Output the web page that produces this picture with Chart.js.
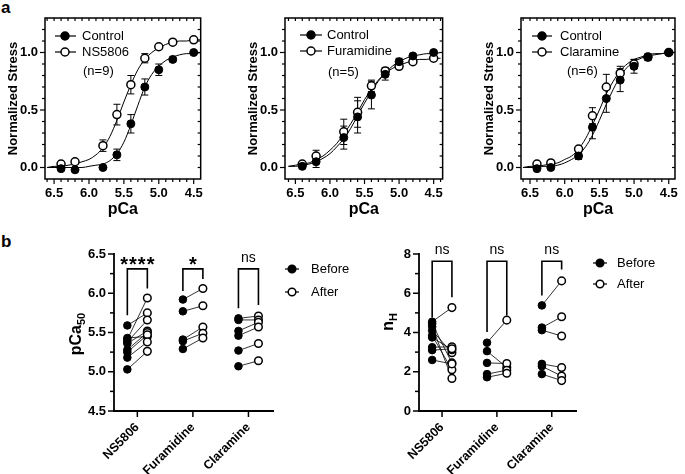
<!DOCTYPE html>
<html><head><meta charset="utf-8">
<script src="https://cdn.jsdelivr.net/npm/chart.js@4.4.1/dist/chart.umd.min.js"></script>
<style>
html,body{margin:0;padding:0;background:#fff;}
#wrap{position:relative;width:685px;height:474px;overflow:hidden;background:#fff;}
canvas{position:absolute;}
.lbl{position:absolute;font:bold 17px "Liberation Sans",Arial,sans-serif;color:#000;line-height:17px;}
</style></head><body>
<div id="wrap">
<div class="lbl" style="left:1px;top:-1px">a</div>
<div class="lbl" style="left:1px;top:233px">b</div>
<canvas id="a1" width="210" height="224" style="left:0;top:0"></canvas>
<canvas id="a2" width="210" height="224" style="left:240px;top:0"></canvas>
<canvas id="a3" width="209" height="224" style="left:476px;top:0"></canvas>
<canvas id="b1" width="360" height="244" style="left:0;top:230px"></canvas>
<canvas id="b2" width="325" height="244" style="left:360px;top:230px"></canvas>
</div>
<script>
const FONT = '"Liberation Sans", Arial, sans-serif';

// ---------- Panel a : force–pCa relations ----------
const pCaPoints = [6.4, 6.2, 5.8, 5.6, 5.4, 5.2, 5.0, 4.8, 4.5];
const pCaFit = [6.6,6.5,6.4,6.3,6.2,6.1,6.0,5.9,5.8,5.7,5.6,5.5,5.4,5.3,5.2,5.1,5.0,4.9,4.8,4.7,4.6,4.5,4.4];
const xTickLabelsA = [6.5, 6.0, 5.5, 5.0, 4.5];
const yTickLabelsA = [0.0, 0.5, 1.0];

// NS5806 panel
const nsCtrl     = [-0.01,-0.02, 0.00, 0.11, 0.38, 0.70, 0.85, 0.94, 1.00];
const nsCtrlErr  = [ 0.00, 0.00, 0.00, 0.05, 0.08, 0.07, 0.05, 0.02, 0.00];
const nsDrug     = [ 0.03, 0.05, 0.19, 0.46, 0.72, 0.95, 1.05, 1.09, 1.11];
const nsDrugErr  = [ 0.00, 0.02, 0.05, 0.09, 0.08, 0.04, 0.02, 0.02, 0.02];
const nsCtrlFit  = [0.00,0.00,0.00,0.00,0.00,0.00,0.01,0.02,0.03,0.06,0.12,0.22,0.37,0.54,0.70,0.81,0.88,0.93,0.96,0.98,0.99,0.99,1.00];
const nsDrugFit  = [0.00,0.01,0.01,0.02,0.03,0.05,0.07,0.11,0.17,0.27,0.41,0.57,0.72,0.85,0.94,1.00,1.04,1.07,1.09,1.10,1.10,1.11,1.11];

// Furamidine panel
const fuCtrl     = [ 0.01, 0.05, 0.26, 0.44, 0.63, 0.81, 0.92, 0.97, 1.00];
const fuCtrlErr  = [ 0.01, 0.05, 0.10, 0.14, 0.12, 0.05, 0.03, 0.01, 0.00];
const fuDrug     = [ 0.03, 0.10, 0.31, 0.48, 0.71, 0.84, 0.88, 0.92, 0.95];
const fuDrugErr  = [ 0.01, 0.05, 0.11, 0.13, 0.05, 0.03, 0.02, 0.01, 0.01];
const fuCtrlFit  = [0.01,0.01,0.02,0.03,0.05,0.08,0.12,0.18,0.25,0.34,0.45,0.56,0.66,0.75,0.82,0.88,0.92,0.95,0.97,0.98,0.99,0.99,1.00];
const fuDrugFit  = [0.01,0.02,0.03,0.04,0.07,0.10,0.15,0.21,0.29,0.38,0.48,0.59,0.68,0.76,0.82,0.86,0.89,0.91,0.93,0.94,0.94,0.95,0.95];

// Claramine panel
const clCtrl     = [-0.01, 0.00, 0.10, 0.35, 0.60, 0.76, 0.88, 0.96, 1.00];
const clCtrlErr  = [ 0.00, 0.00, 0.03, 0.10, 0.12, 0.10, 0.06, 0.03, 0.00];
const clDrug     = [ 0.03, 0.04, 0.16, 0.45, 0.70, 0.82, 0.90, 0.96, 1.00];
const clDrugErr  = [ 0.00, 0.00, 0.02, 0.07, 0.11, 0.06, 0.04, 0.02, 0.00];
const clCtrlFit  = [0.00,0.00,0.00,0.01,0.01,0.02,0.04,0.07,0.11,0.18,0.28,0.41,0.55,0.68,0.79,0.87,0.92,0.95,0.97,0.98,0.99,1.00,1.00];
const clDrugFit  = [0.00,0.01,0.01,0.02,0.03,0.04,0.07,0.10,0.16,0.25,0.37,0.50,0.64,0.75,0.84,0.90,0.94,0.96,0.98,0.99,0.99,1.00,1.00];

// ---------- Panel b : paired pCa50 and nH ----------
const categories = ['NS5806', 'Furamidine', 'Claramine'];
const pca50NsBefore = [5.59, 5.43, 5.41, 5.38, 5.36, 5.28, 5.25, 5.18, 5.03];
const pca50NsAfter  = [5.75, 5.45, 5.94, 5.66, 5.52, 5.50, 5.47, 5.38, 5.26];
const pca50FuBefore = [5.92, 5.77, 5.41, 5.39, 5.29];
const pca50FuAfter  = [6.06, 5.84, 5.57, 5.49, 5.43];
const pca50ClBefore = [5.68, 5.66, 5.52, 5.46, 5.27, 5.07];
const pca50ClAfter  = [5.71, 5.66, 5.63, 5.57, 5.36, 5.14];
const nhNsBefore = [4.55, 4.45, 4.30, 4.10, 3.85, 3.75, 3.25, 3.10, 2.60];
const nhNsAfter  = [5.27, 2.45, 1.66, 2.97, 2.10, 3.12, 3.27, 3.17, 2.40];
const nhFuBefore = [3.48, 3.05, 2.45, 1.88, 1.72];
const nhFuAfter  = [4.63, 2.22, 2.42, 2.08, 1.92];
const nhClBefore = [5.38, 4.25, 4.12, 2.40, 2.28, 1.88];
const nhClAfter  = [6.63, 4.80, 3.82, 2.22, 1.78, 1.55];
const pca50Significance = ['****', '*', 'ns'];
const nhSignificance    = ['ns', 'ns', 'ns'];
// bracket heights in data units: [top, left leg end, right leg end]
const pca50Brackets = [[6.31, 5.72, 6.06], [6.31, 6.03, 6.18], [6.31, 5.81, 5.85]];
const nhBrackets    = [[7.63, 4.77, 5.79], [7.63, 4.03, 4.87], [7.63, 5.89, 7.21]];

// ================= helpers =================
function seg(ctx, x0, y0, x1, y1) { ctx.beginPath(); ctx.moveTo(x0, y0); ctx.lineTo(x1, y1); ctx.stroke(); }
function marker(ctx, x, y, r, filled) {
  ctx.beginPath(); ctx.arc(x, y, r, 0, Math.PI * 2);
  ctx.fillStyle = filled ? '#000' : '#fff'; ctx.fill();
  ctx.lineWidth = 1.5; ctx.strokeStyle = '#000'; ctx.stroke();
}

function decoA(o) {
  return {
    id: 'decoA',
    beforeDatasetsDraw(chart) {
      const ctx = chart.ctx, ys = chart.scales.y;
      ctx.save(); ctx.strokeStyle = '#000'; ctx.lineWidth = 1;
      o.errs.forEach(e => {
        const meta = chart.getDatasetMeta(e.ds);
        const vals = chart.data.datasets[e.ds].data;
        meta.data.forEach((pt, j) => {
          const err = e.err[j]; if (!err) return;
          const yt = ys.getPixelForValue(vals[j].y + err), yb = ys.getPixelForValue(vals[j].y - err);
          ctx.beginPath();
          ctx.moveTo(pt.x, yt); ctx.lineTo(pt.x, yb);
          ctx.moveTo(pt.x - 3.5, yt); ctx.lineTo(pt.x + 3.5, yt);
          ctx.moveTo(pt.x - 3.5, yb); ctx.lineTo(pt.x + 3.5, yb);
          ctx.stroke();
        });
      });
      ctx.restore();
    },
    afterDraw(chart) {
      const ctx = chart.ctx, ca = chart.chartArea, xs = chart.scales.x, ys = chart.scales.y;
      ctx.save(); ctx.strokeStyle = '#000';
      ctx.lineWidth = 1.5;
      ctx.strokeRect(ca.left, ca.top, ca.right - ca.left, ca.bottom - ca.top);
      ctx.lineWidth = 1.2;
      for (let k = 43; k <= 67; k++) {
        const px = xs.getPixelForValue(k / 10);
        if (px <= ca.left + 1 || px >= ca.right - 1) continue;
        const len = (k % 5 === 0) ? 5 : 3;
        seg(ctx, px, ca.bottom, px, ca.bottom + len);
        seg(ctx, px, ca.top, px, ca.top + 3);
      }
      for (let k = -1; k <= 13; k++) {
        const py = ys.getPixelForValue(k / 10);
        if (py <= ca.top + 1 || py >= ca.bottom - 1) continue;
        const len = (k % 5 === 0) ? 5 : 3;
        seg(ctx, ca.left - len, py, ca.left, py);
        seg(ctx, ca.right - 3, py, ca.right, py);
      }
      // legend
      const L = o.leg;
      ctx.font = '13px ' + FONT; ctx.fillStyle = '#000'; ctx.textBaseline = 'middle'; ctx.textAlign = 'left';
      [[o.names[0], true, L.r1], [o.names[1], false, L.r2]].forEach(([t, f, ry]) => {
        const y = ca.top + ry;
        ctx.lineWidth = 1.2; ctx.strokeStyle = '#000';
        seg(ctx, ca.left + L.l0, y, ca.left + L.l1, y);
        marker(ctx, ca.left + L.mk, y, 4, f);
        ctx.fillStyle = '#000';
        ctx.fillText(t, ca.left + L.tx, y + 0.5);
      });
      ctx.fillText(o.nText, ca.left + L.nx, ca.top + L.ny);
      ctx.restore();
    }
  };
}

function makeA(id, ctrl, ctrlErr, drug, drugErr, ctrlFit, drugFit, names, nText, leg, xmin, xmax, plotW) {
  const cv = document.getElementById(id);
  const padRight = cv.width - 45 - plotW;
  const pts = arr => pCaPoints.map((x, i) => ({ x, y: arr[i] }));
  const fit = arr => pCaFit.map((x, i) => ({ x, y: arr[i] }));
  return new Chart(cv, {
    type: 'line',
    data: { datasets: [
      { label: names[0], data: pts(ctrl), showLine: false, pointRadius: 4, pointBackgroundColor: '#000', pointBorderColor: '#000', pointBorderWidth: 1, borderColor: '#000' },
      { label: names[1], data: pts(drug), showLine: false, pointRadius: 4, pointBackgroundColor: '#fff', pointBorderColor: '#000', pointBorderWidth: 1.5, borderColor: '#000' },
      { label: names[0] + ' fit', data: fit(ctrlFit), borderColor: '#000', borderWidth: 1, pointRadius: 0, cubicInterpolationMode: 'monotone', fill: false },
      { label: names[1] + ' fit', data: fit(drugFit), borderColor: '#000', borderWidth: 1, pointRadius: 0, cubicInterpolationMode: 'monotone', fill: false }
    ]},
    options: {
      responsive: false, animation: false, events: [],
      layout: { padding: { top: 18, left: 0, right: padRight, bottom: 0 } },
      plugins: { legend: { display: false }, tooltip: { enabled: false } },
      scales: {
        x: {
          type: 'linear', reverse: true, min: xmin, max: xmax,
          afterBuildTicks: s => { s.ticks = xTickLabelsA.map(v => ({ value: v })); },
          afterFit: s => { s.height = 45; },
          grid: { display: false, drawTicks: false }, border: { display: false },
          ticks: { padding: 7, color: '#000', autoSkip: false, maxRotation: 0, font: { family: FONT, size: 13, weight: 'bold' }, callback: v => Number(v).toFixed(1) },
          title: { display: true, text: 'pCa', color: '#000', font: { family: FONT, size: 16, weight: 'bold' }, padding: { top: 0, bottom: 5 } }
        },
        y: {
          type: 'linear', min: -0.1, max: 1.3,
          afterBuildTicks: s => { s.ticks = yTickLabelsA.map(v => ({ value: v })); },
          afterFit: s => { s.width = 45; },
          grid: { display: false, drawTicks: false }, border: { display: false },
          ticks: { padding: 7, color: '#000', autoSkip: false, font: { family: FONT, size: 13, weight: 'bold' }, callback: v => Number(v).toFixed(1) },
          title: { display: true, text: 'Normalized Stress', color: '#000', font: { family: FONT, size: 13, weight: 'bold' }, padding: { top: 6, bottom: 0 } }
        }
      }
    },
    plugins: [decoA({ errs: [{ ds: 0, err: ctrlErr }, { ds: 1, err: drugErr }], names, nText, leg })]
  });
}

makeA('a1', nsCtrl, nsCtrlErr, nsDrug, nsDrugErr, nsCtrlFit, nsDrugFit, ['Control', 'NS5806'], '(n=9)',
  { l0: 10, l1: 31, mk: 20, tx: 37, nx: 38, r1: 18, r2: 34, ny: 53 }, 4.40, 6.63, 159);
makeA('a2', fuCtrl, fuCtrlErr, fuDrug, fuDrugErr, fuCtrlFit, fuDrugFit, ['Control', 'Furamidine'], '(n=5)',
  { l0: 15, l1: 37, mk: 26, tx: 42, nx: 43, r1: 17, r2: 33, ny: 54 }, 4.37, 6.65, 162);
makeA('a3', clCtrl, clCtrlErr, clDrug, clDrugErr, clCtrlFit, clDrugFit, ['Control', 'Claramine'], '(n=6)',
  { l0: 11, l1: 31, mk: 21, tx: 39, nx: 46, r1: 18, r2: 34, ny: 53 }, 4.41, 6.63, 161);

// ================= panel b =================
const OFF = 0.18;
function decoB(o) {
  return {
    id: 'decoB',
    afterDraw(chart) {
      const ctx = chart.ctx, ca = chart.chartArea, xs = chart.scales.x, ys = chart.scales.y;
      ctx.save(); ctx.strokeStyle = '#000'; ctx.fillStyle = '#000';
      // axes
      ctx.lineWidth = 1.8;
      seg(ctx, ca.left, ca.top - 1, ca.left, ca.bottom + 0.9);
      seg(ctx, ca.left - 0.9, ca.bottom, ca.right, ca.bottom);
      ctx.lineWidth = 1.5;
      const mn = ys.min, mx = ys.max;
      for (let v = mn, k = 0; v <= mx + 1e-9; v = mn + (++k) * o.minor) {
        const py = ys.getPixelForValue(v);
        seg(ctx, ca.left - ((k % 2 === 0) ? 6 : 4), py, ca.left, py);
      }
      categories.forEach((c, i) => { const px = xs.getPixelForValue(i + 1); seg(ctx, px, ca.bottom, px, ca.bottom + 6); });
      // brackets
      ctx.lineWidth = 1.6;
      o.brackets.forEach((b, i) => {
        const xl = xs.getPixelForValue(i + 1 - OFF), xr = xs.getPixelForValue(i + 1 + OFF);
        const yt = ys.getPixelForValue(b[0]);
        ctx.beginPath();
        ctx.moveTo(xl, ys.getPixelForValue(b[1])); ctx.lineTo(xl, yt); ctx.lineTo(xr, yt); ctx.lineTo(xr, ys.getPixelForValue(b[2]));
        ctx.stroke();
        const txt = o.sig[i], cx = xs.getPixelForValue(i + 1);
        ctx.textAlign = 'center'; ctx.textBaseline = 'alphabetic';
        if (txt === 'ns') {
          ctx.font = '14px ' + FONT; ctx.fillText('ns', cx, yt - o.nsGap);
        } else {
          ctx.font = 'bold 20px ' + FONT;
          const n = txt.length;
          for (let s = 0; s < n; s++) ctx.fillText('*', cx + (s - (n - 1) / 2) * 8.8, yt + 2);
        }
      });
      // legend
      const L = o.leg;
      ctx.font = '13px ' + FONT; ctx.textAlign = 'left'; ctx.textBaseline = 'middle';
      [['Before', true, L.r1], ['After', false, L.r2]].forEach(([t, f, y]) => {
        ctx.lineWidth = 1.2; ctx.strokeStyle = '#000';
        seg(ctx, L.l0, y, L.l1, y);
        marker(ctx, L.mk, y, 3.8, f);
        ctx.fillStyle = '#000'; ctx.fillText(t, L.tx, y + 0.5);
      });
      // y title with subscript
      ctx.translate(o.title.cx, o.title.cy); ctx.rotate(-Math.PI / 2);
      ctx.textBaseline = 'alphabetic'; ctx.textAlign = 'left';
      ctx.font = 'bold 16px ' + FONT;
      const w1 = ctx.measureText(o.title.main).width;
      ctx.font = 'bold 11px ' + FONT;
      const w2 = ctx.measureText(o.title.sub).width;
      const x0 = -(w1 + w2) / 2;
      ctx.font = 'bold 16px ' + FONT; ctx.fillText(o.title.main, x0, 6);
      ctx.font = 'bold 11px ' + FONT; ctx.fillText(o.title.sub, x0 + w1, 10);
      ctx.restore();
    }
  };
}

function makeB(id, before, after, ymin, ymax, step, decimals, o, yAxisW) {
  const cv = document.getElementById(id);
  const ca = { top: 24, bottom: 181 };
  const datasets = [];
  const bPts = [], aPts = [];
  before.forEach((arr, ci) => arr.forEach(v => bPts.push({ x: ci + 1 - OFF, y: v })));
  after.forEach((arr, ci) => arr.forEach(v => aPts.push({ x: ci + 1 + OFF, y: v })));
  datasets.push({ label: 'Before', data: bPts, showLine: false, pointRadius: 3.8, pointBackgroundColor: '#000', pointBorderColor: '#000', pointBorderWidth: 1, clip: false });
  datasets.push({ label: 'After', data: aPts, showLine: false, pointRadius: 3.8, pointBackgroundColor: '#fff', pointBorderColor: '#000', pointBorderWidth: 1.5, clip: false });
  before.forEach((arr, ci) => arr.forEach((v, j) => {
    datasets.push({ label: 'pair', data: [{ x: ci + 1 - OFF, y: v }, { x: ci + 1 + OFF, y: after[ci][j] }], borderColor: '#000', borderWidth: 0.8, pointRadius: 0, clip: false });
  }));
  return new Chart(cv, {
    type: 'line',
    data: { datasets },
    options: {
      responsive: false, animation: false, events: [],
      layout: { padding: { top: ca.top, left: 0, right: o.padRight, bottom: 0 } },
      plugins: { legend: { display: false }, tooltip: { enabled: false } },
      scales: {
        x: {
          type: 'linear', min: 0.58, max: 3.46,
          afterBuildTicks: s => { s.ticks = categories.map((c, i) => ({ value: i + 1 })); },
          afterFit: s => { s.height = cv.height - ca.bottom; },
          grid: { display: false, drawTicks: false }, border: { display: false },
          ticks: { padding: 9, color: '#000', autoSkip: false, minRotation: 45, maxRotation: 45,
            font: { family: FONT, size: 12.5, weight: 'bold' }, callback: v => categories[Math.round(v) - 1] }
        },
        y: {
          type: 'linear', min: ymin, max: ymax,
          afterBuildTicks: s => { const t = []; for (let k = 0; ymin + k * step <= ymax + 1e-9; k++) t.push({ value: ymin + k * step }); s.ticks = t; },
          afterFit: s => { s.width = yAxisW; },
          grid: { display: false, drawTicks: false }, border: { display: false },
          ticks: { padding: 8, color: '#000', autoSkip: false, font: { family: FONT, size: 13, weight: 'bold' }, callback: v => Number(v).toFixed(decimals) }
        }
      }
    },
    plugins: [decoB(o)]
  });
}

makeB('b1', [pca50NsBefore, pca50FuBefore, pca50ClBefore], [pca50NsAfter, pca50FuAfter, pca50ClAfter], 4.5, 6.5, 0.5, 1,
  { minor: 0.25, brackets: pca50Brackets, sig: pca50Significance, nsGap: 7,
    leg: { l0: 285, l1: 299, mk: 292, tx: 311, r1: 39, r2: 62 },
    title: { main: 'pCa', sub: '50', cx: 75, cy: 104 }, padRight: 360 - 274 }, 114);
makeB('b2', [nhNsBefore, nhFuBefore, nhClBefore], [nhNsAfter, nhFuAfter, nhClAfter], 0, 8, 2, 0,
  { minor: 1, brackets: nhBrackets, sig: nhSignificance, nsGap: 7,
    leg: { l0: 233, l1: 247, mk: 240, tx: 257, r1: 33, r2: 54 },
    title: { main: 'n', sub: 'H', cx: 27, cy: 92 }, padRight: 325 - 217 }, 59);
</script>
</body></html>
